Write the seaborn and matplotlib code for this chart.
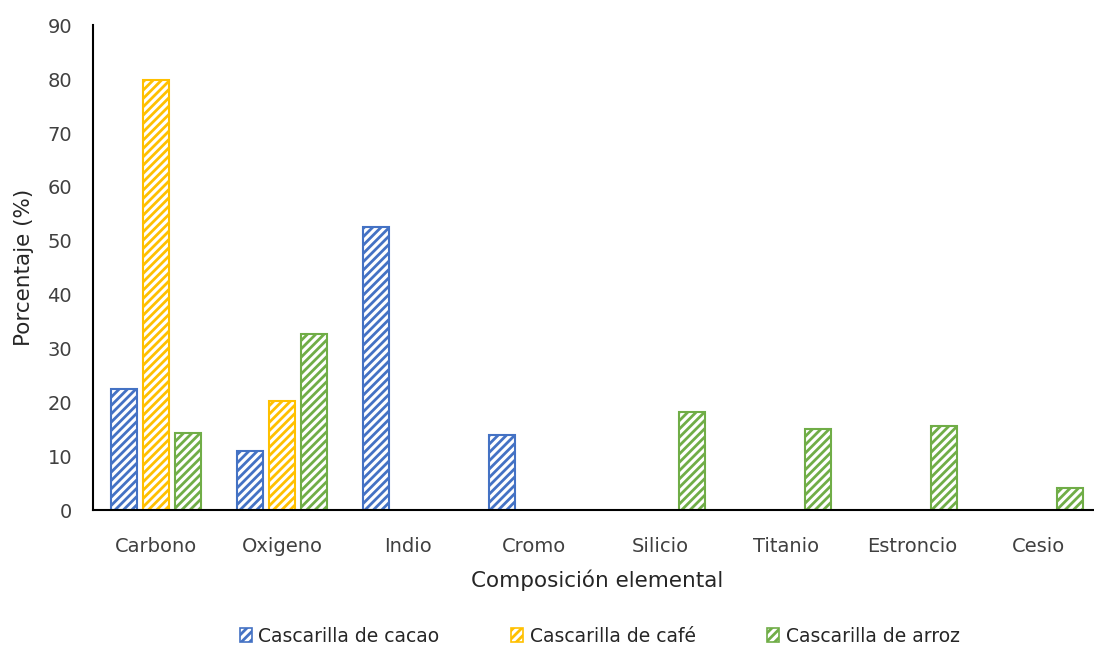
import matplotlib
matplotlib.use("Agg")
import matplotlib.pyplot as plt
import seaborn as sns
import pandas as pd
import numpy as np
from matplotlib.patches import Patch

elementos = ["Carbono", "Oxigeno", "Indio", "Cromo", "Silicio", "Titanio", "Estroncio", "Cesio"]
series = ["Cascarilla de cacao", "Cascarilla de café", "Cascarilla de arroz"]
cacao = [22.4, 11.0, 52.5, 13.9, np.nan, np.nan, np.nan, np.nan]
cafe = [79.8, 20.2, np.nan, np.nan, np.nan, np.nan, np.nan, np.nan]
arroz = [14.3, 32.7, np.nan, np.nan, 18.2, 15.0, 15.6, 4.1]
colores = ["#4472C4", "#FFC000", "#70AD47"]

df = pd.DataFrame({
    "Elemento": elementos * 3,
    "Serie": [s for s in series for _ in elementos],
    "Valor": cacao + cafe + arroz,
})

sns.set_style("white")
plt.rcParams["font.family"] = ["DejaVu Sans"]
plt.rcParams["hatch.linewidth"] = 2.0

fig = plt.figure(figsize=(10.94, 6.49), dpi=100)
ax = fig.add_axes([0.085, 0.214, 0.9214, 0.747])

sns.barplot(data=df, x="Elemento", y="Valor", hue="Serie", order=elementos,
            hue_order=series, palette=colores, width=0.76, gap=0.16,
            ax=ax, legend=False)

# hatched bars: white fill, coloured outline and diagonal stripes
for container, col in zip(ax.containers, colores):
    for bar in container:
        bar.set_facecolor("white")
        bar.set_edgecolor(col)
        bar.set_hatch("////")
        bar.set_linewidth(1.5)

ax.set_ylim(0, 90)
ax.set_yticks(range(0, 91, 10))
ax.set_xlim(-0.5, len(elementos) - 0.5)
ax.set_xlabel("Composición elemental", fontsize=15.5, color="#262626", labelpad=10)
ax.set_ylabel("Porcentaje (%)", fontsize=15.5, color="#262626", labelpad=10)
ax.tick_params(axis="x", labelsize=14, colors="#404040", length=0, pad=19)
ax.tick_params(axis="y", labelsize=14, colors="#404040", length=0, pad=15)
for side in ["top", "right"]:
    ax.spines[side].set_visible(False)
for side in ["left", "bottom"]:
    ax.spines[side].set_color("black")
    ax.spines[side].set_linewidth(1.5)

handles = [Patch(facecolor="white", edgecolor=c, hatch="////", linewidth=1.2) for c in colores]
fig.legend(handles, series, loc="center", bbox_to_anchor=(0.548, 0.02), ncol=3,
           frameon=False, fontsize=13.5, handlelength=0.65, handleheight=0.7,
           handletextpad=0.35, columnspacing=3.8, labelcolor="#262626")

fig.savefig("out.png", dpi=100)
